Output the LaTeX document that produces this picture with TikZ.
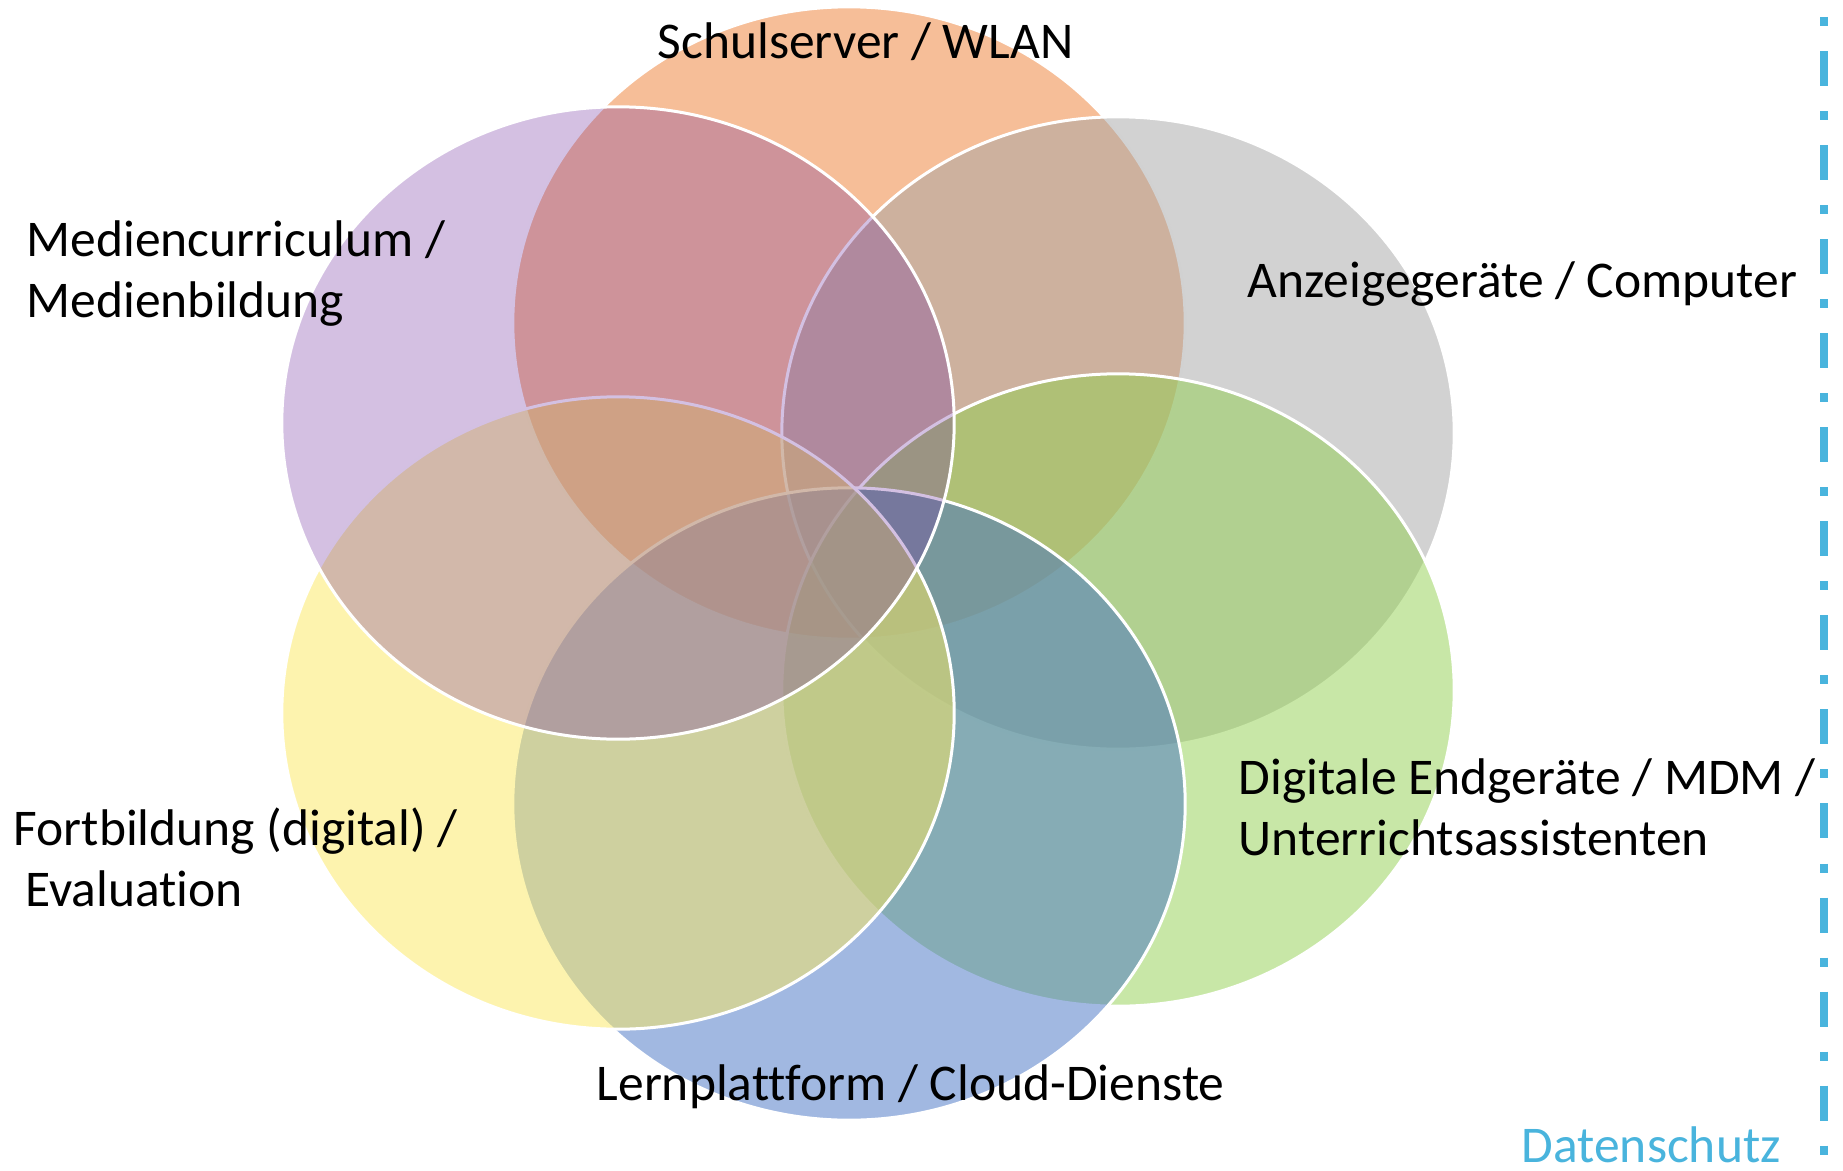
\documentclass[tikz,border=0pt]{standalone}
\usepackage{fontspec}
\setmainfont[Ligatures=NoCommon]{Carlito}
\definecolor{vOrange}{HTML}{ED7D31}
\definecolor{vGray}{HTML}{A5A5A5}
\definecolor{vGreen}{HTML}{92D050}
\definecolor{vBlue}{HTML}{4472C4}
\definecolor{vYellow}{HTML}{FBE85E}
\definecolor{vPurple}{HTML}{7030A0}
\definecolor{vSchutz}{HTML}{49B4DD}
\begin{document}
\begin{tikzpicture}[x=0.01cm,y=-0.01cm,
    venn/.style={draw=white,line width=0.03cm,fill opacity=0.5},
    lbl/.style={anchor=base west,inner sep=0pt,align=left,
      font=\fontsize{14.65pt}{17.3pt}\selectfont}]
  \useasboundingbox (0,0) rectangle (1843,1170);
  % the six sets
  \draw[venn,fill=vOrange] (849,323) ellipse [x radius=3.36cm,y radius=3.16cm];
  \draw[venn,fill=vGray] (1118,433) ellipse [x radius=3.36cm,y radius=3.16cm];
  \draw[venn,fill=vGreen] (1118,690) ellipse [x radius=3.36cm,y radius=3.16cm];
  \draw[venn,fill=vBlue] (849,804) ellipse [x radius=3.36cm,y radius=3.16cm];
  \draw[venn,fill=vYellow] (618,713) ellipse [x radius=3.36cm,y radius=3.16cm];
  \draw[venn,fill=vPurple,fill opacity=0.3] (618,423) ellipse [x radius=3.36cm,y radius=3.16cm];
  % labels (base = last line)
  \node[lbl] (server) at (657,59) {Schulserver / WLAN};
  \node[lbl] (curri) at (26,317) {Mediencurriculum /\\Medienbildung};
  \node[lbl] (anzeige) at (1247,297) {Anzeigegeräte / Computer};
  \node[lbl] (endger) at (1238,855) {Digitale Endgeräte / MDM /\\Unterrichtsassistenten};
  \node[lbl] (fortb) at (13,906) {Fortbildung (digital) /\\\ Evaluation};
  \node[lbl] (lernpl) at (596,1100) {Lernplattform / Cloud-Dienste};
  % Datenschutz
  \draw[vSchutz,line width=0.08cm,dash pattern=on 0.09cm off 0.25cm on 0.35cm off 0.25cm]
    (1824,17) -- (1824,1170);
  \node[lbl,text=vSchutz] (schutz) at (1521,1162) {Datenschutz};
\end{tikzpicture}
\end{document}
